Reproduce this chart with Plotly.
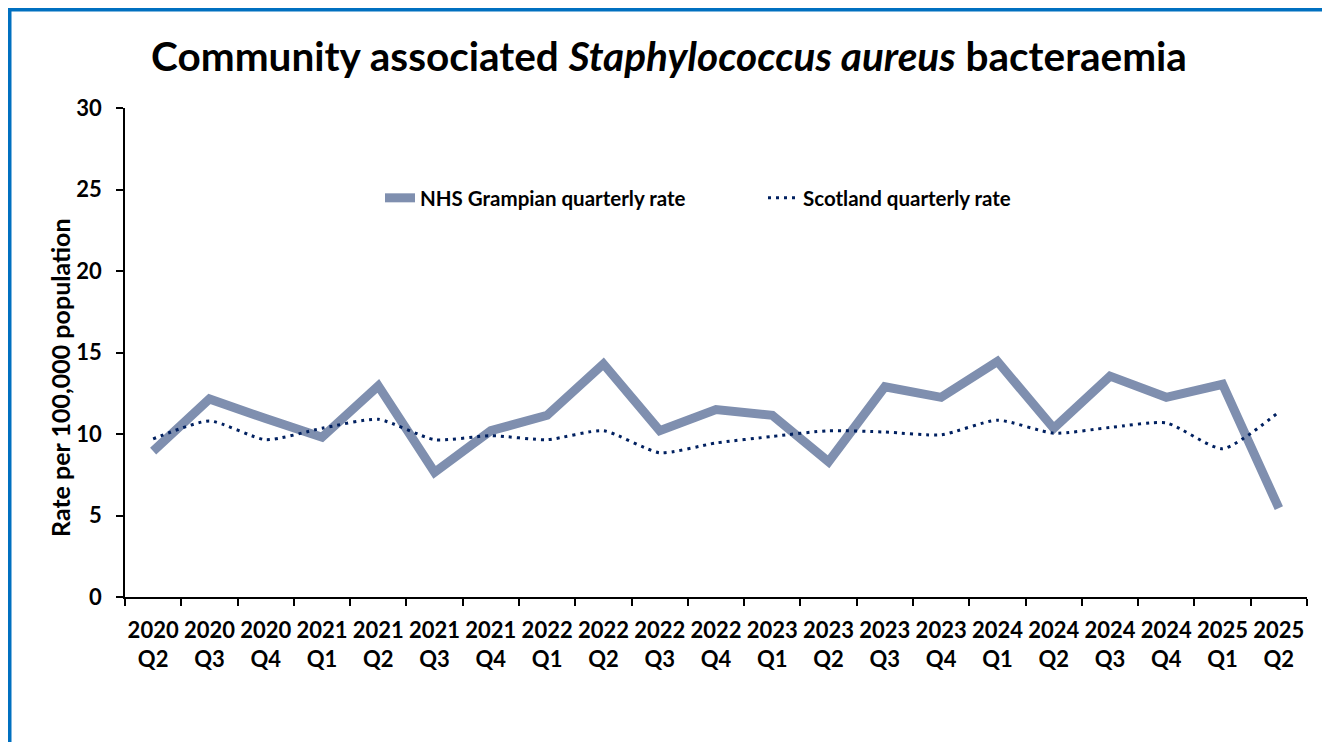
import plotly.graph_objects as go

quarters = ["2020<br>Q2", "2020<br>Q3", "2020<br>Q4", "2021<br>Q1", "2021<br>Q2", "2021<br>Q3",
            "2021<br>Q4", "2022<br>Q1", "2022<br>Q2", "2022<br>Q3", "2022<br>Q4", "2023<br>Q1",
            "2023<br>Q2", "2023<br>Q3", "2023<br>Q4", "2024<br>Q1", "2024<br>Q2", "2024<br>Q3",
            "2024<br>Q4", "2025<br>Q1", "2025<br>Q2"]
grampian = [8.95, 12.15, 10.95, 9.8, 12.95, 7.65, 10.2, 11.15, 14.3, 10.2, 11.5, 11.15,
            8.3, 12.9, 12.25, 14.45, 10.35, 13.55, 12.25, 13.05, 5.45]
scotland = [9.7, 10.8, 9.65, 10.35, 10.9, 9.65, 9.9, 9.65, 10.2, 8.85, 9.45, 9.85,
            10.2, 10.12, 9.95, 10.85, 10.05, 10.4, 10.68, 9.1, 11.35]
y_ticks = [0, 5, 10, 15, 20, 25, 30]

FONT = "Lato"
OFF = 8  # browser body margin
W, H = 1330 - OFF, 742 - OFF
L, R, T, B = 125 - OFF, 23, 108 - OFF, 742 - 597
pw, ph = W - L - R, H - T - B


def px_x(sx):
    return (sx - OFF - L) / pw


def px_y(sy):
    return (H - B - (sy - OFF)) / ph


fig = go.Figure()
fig.add_trace(go.Scatter(
    x=quarters, y=grampian, mode="lines", name="NHS Grampian quarterly rate",
    line=dict(color="#7F8FAF", width=9)))
fig.add_trace(go.Scatter(
    x=quarters, y=scotland, mode="lines", name="Scotland quarterly rate",
    line=dict(color="#002060", width=3, dash="3px,5px", shape="spline", smoothing=0.6)))

fig.add_shape(type="rect", xref="paper", yref="paper",
              x0=px_x(OFF + 1), x1=px_x(1327.5), y0=px_y(780), y1=px_y(OFF + 1),
              line=dict(color="#0070C0", width=5), fillcolor="rgba(0,0,0,0)", layer="below")

fig.add_annotation(text="<b>Rate per 100,000 population</b>", textangle=-90,
                   xref="paper", yref="paper", x=px_x(60), y=px_y(378),
                   xanchor="center", yanchor="middle", showarrow=False,
                   font=dict(family=FONT, size=25, color="black"))

fig.update_layout(
    width=W, height=H,
    margin=dict(l=L, r=R, t=T, b=B),
    paper_bgcolor="white", plot_bgcolor="white",
    font=dict(family=FONT, color="black", size=22),
    title=dict(text="<b>Community associated <i>Staphylococcus aureus</i> bacteraemia</b>",
               x=(669 - OFF) / W, xanchor="center", xref="container",
               y=1 - (57 - OFF) / H, yanchor="middle", yref="container",
               font=dict(family=FONT, size=40.5, color="black")),
    showlegend=True,
    legend=dict(orientation="h", x=px_x(380), y=px_y(198), xanchor="left", yanchor="middle",
                font=dict(family=FONT, size=20.5, color="black", weight="bold"),
                bgcolor="rgba(0,0,0,0)", entrywidth=338, entrywidthmode="pixels"),
    xaxis=dict(type="category", range=[-0.5, len(quarters) - 0.5],
               showline=True, linecolor="black", linewidth=1.5,
               ticks="outside", tickson="boundaries", ticklen=7, tickcolor="black", tickwidth=1.5,
               tickfont=dict(family=FONT, size=22, color="black", weight="bold"),
               ticklabelstandoff=13,
               showgrid=False, zeroline=False, tickangle=0),
    yaxis=dict(range=[0, 30], tickvals=y_ticks, ticktext=[str(v) for v in y_ticks],
               showline=True, linecolor="black", linewidth=1.5,
               ticks="outside", ticklen=7, tickcolor="black", tickwidth=1.5,
               tickfont=dict(family=FONT, size=22, color="black", weight="bold"),
               ticklabelstandoff=10,
               showgrid=False, zeroline=False),
)

fig.write_html("out.html")
